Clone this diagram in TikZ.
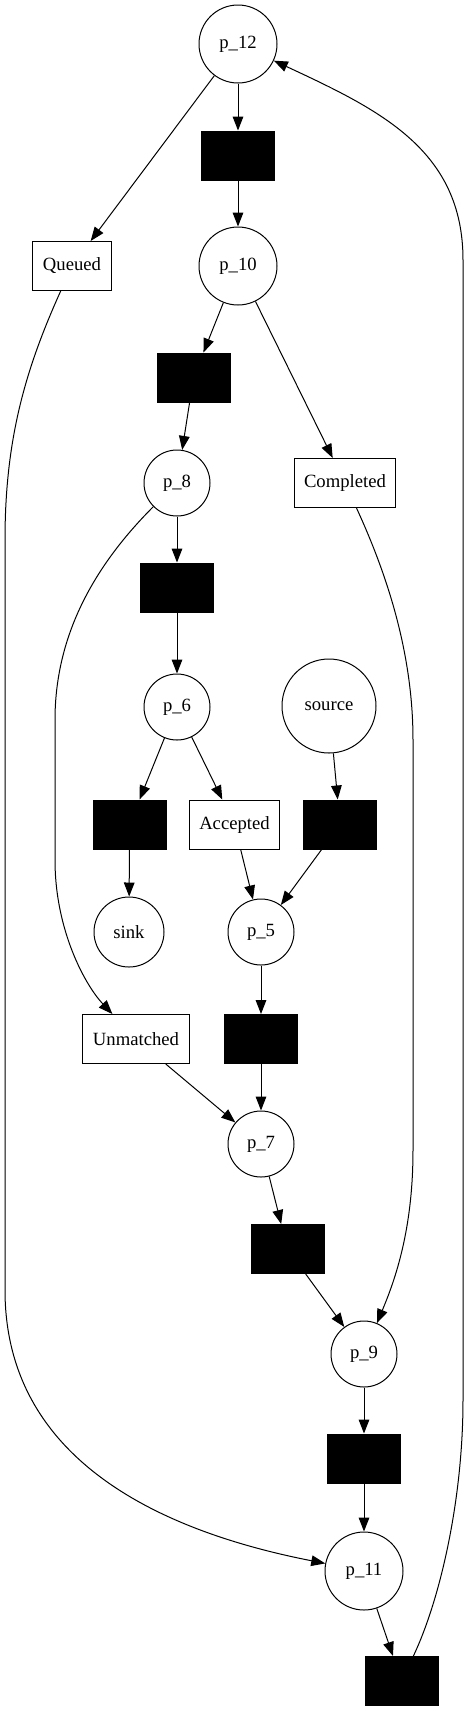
\documentclass[tikz,border=0pt]{standalone}
\usepackage{fontspec}
\setmainfont{Liberation Serif}
\usetikzlibrary{arrows.meta}
\begin{document}
\begin{tikzpicture}[x=0.75pt,y=-0.75pt,line width=0.75pt,>={Triangle[length=10.5pt,width=8pt]},
  font=\fontsize{14}{16}\selectfont,
  place/.style={draw,circle,inner sep=0pt},
  trans/.style={draw,fill=black,minimum width=54.75pt,minimum height=36.75pt,inner sep=0pt},
  act/.style={draw,minimum height=36.75pt,inner xsep=7.5pt,inner ysep=0pt}]
  \useasboundingbox (0,0) rectangle (469,1711);
  \foreach \n/\x/\y/\d in {12/238/44/58.5pt,10/238/266/58.5pt,8/177/483/49.5pt,6/177/707/49.5pt,5/261/932/49.5pt,7/261/1144/49.5pt,9/364/1354/49.5pt,11/364/1571/58.5pt}
    \node[place,minimum size=\d] (p\n) at (\x,\y) {p\_\n};
  \node[place,minimum size=70.5pt] (src) at (329,706) {source};
  \node[place,minimum size=52.5pt] (sink) at (129,932) {sink};
  \foreach \n/\x/\y in {1/238/155.5,2/193.5/377.5,3/177/587.5,4/129.5/824.5,5/340/824.5,6/261/1039,7/287.5/1249,8/364/1458.5,9/401.5/1681}
    \node[trans] (t\n) at (\x,\y) {};
  \node[act] (que) at (72,266) {Queued};
  \node[act] (cmp) at (345,483) {Completed};
  \node[act] (acc) at (234.5,824.5) {Accepted};
  \node[act] (um) at (136,1039) {Unmatched};
  \foreach \a/\b in {p12/t1,p12/que,t1/p10,p10/t2,p10/cmp,t2/p8,p8/t3,t3/p6,p6/t4,p6/acc,src/t5,t4/sink,acc/p5,t5/p5,p5/t6,t6/p7,um/p7,p7/t7,t7/p9,p9/t8,t8/p11,p11/t9}
    \draw[->] (\a) -- (\b);
  \draw[->] (que) .. controls (25,370) and (5,440) .. (5,540) -- (5,1290) .. controls (5,1470) and (180,1535) .. (p11);
  \draw[->] (p8) .. controls (90,570) and (55,640) .. (55,720) -- (55,860) .. controls (55,930) and (85,985) .. (um);
  \draw[->] (cmp) .. controls (385,570) and (413,650) .. (413,740) -- (413,1150) .. controls (413,1230) and (395,1280) .. (p9);
  \draw[->] (t9) .. controls (440,1600) and (463,1500) .. (463,1400) -- (463,260) .. controls (463,150) and (380,110) .. (p12);
\end{tikzpicture}
\end{document}
